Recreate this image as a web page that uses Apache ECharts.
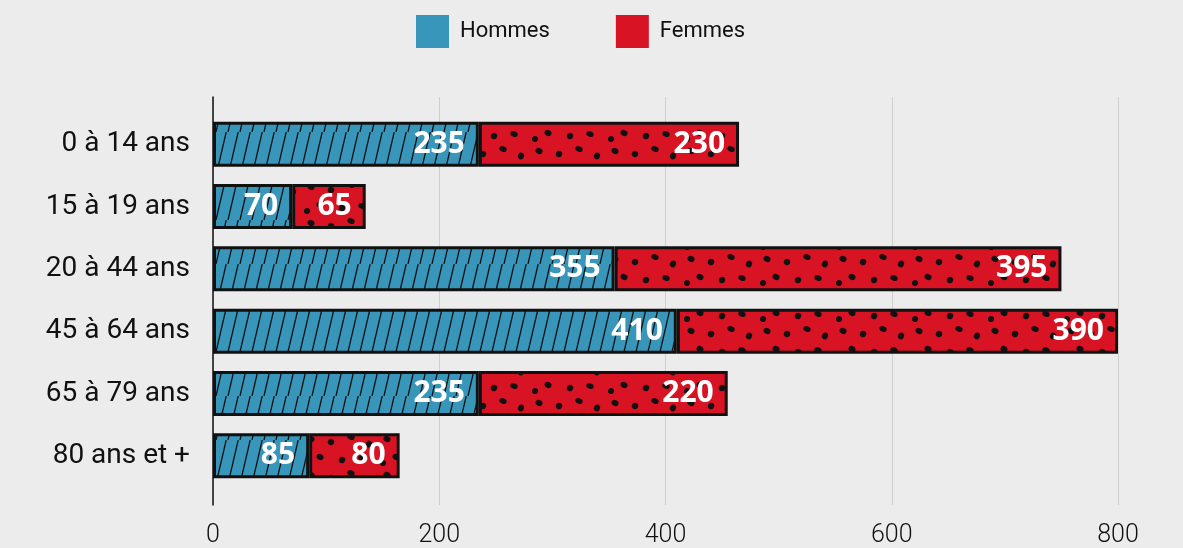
<!DOCTYPE html>
<html><head><meta charset="utf-8">
<script src="https://cdn.jsdelivr.net/npm/echarts@6/dist/echarts.min.js"></script>
<style>html,body{margin:0;padding:0;background:#ececec}#c{width:1183px;height:548px}</style>
</head><body><div id="c"></div>
<script>
const categories = ['0 à 14 ans','15 à 19 ans','20 à 44 ans','45 à 64 ans','65 à 79 ans','80 ans et +'];
const hommes = [235, 70, 355, 410, 235, 85];
const femmes = [230, 65, 395, 390, 220, 80];
const xTicks = [0, 200, 400, 600, 800];

const BLUE = '#3996bb', RED = '#d71324';

function hatch() {
  const w = 12, h = 44, c = document.createElement('canvas');
  c.width = w; c.height = h;
  const g = c.getContext('2d');
  g.fillStyle = BLUE; g.fillRect(0, 0, w, h);
  g.strokeStyle = '#111'; g.lineWidth = 1.3;
  for (const o of [-w, 0, w]) {
    g.beginPath(); g.moveTo(o, h); g.lineTo(o + w * 0.85, 0); g.stroke();
  }
  return c;
}
function dots() {
  const w = 76, h = 36, c = document.createElement('canvas');
  c.width = w; c.height = h;
  const g = c.getContext('2d');
  g.fillStyle = RED; g.fillRect(0, 0, w, h);
  g.fillStyle = '#111';
  const pts = [[7,7,3.6,2.9],[27,10,3.2,3.2],[47,5,3.8,2.7],[65,12,3,3.4],[16,25,3.6,2.9],[38,28,3.2,3.2],[58,26,3.8,2.8],[3,31,3,3]];
  for (const [x,y,rx,ry] of pts) { g.beginPath(); g.ellipse(x,y,rx,ry,0.4,0,Math.PI*2); g.fill(); }
  return c;
}

const labelStyle = {show:true, position:'insideRight', distance:14, color:'#fff', fontFamily:'Open Sans', fontWeight:700, fontSize:30};

const chart = echarts.init(document.getElementById('c'));
chart.setOption({
  backgroundColor:'#ececec',
  animation:false,
  legend:{
    top:10, left:411, itemWidth:33, itemHeight:33, itemGap:66, icon:'rect',
    textStyle:{fontFamily:'Roboto', fontSize:22, color:'#111', padding:[0,0,0,6]},
    data:[{name:'Hommes', itemStyle:{color:BLUE, borderWidth:0}},{name:'Femmes', itemStyle:{color:RED, borderWidth:0}}]
  },
  grid:[
    {left:213, right:65, top:97, bottom:43},
    {left:213, right:65, top:113, bottom:61}
  ],
  xAxis:[
    {gridIndex:0, type:'value', min:0, max:800, interval:200, axisLine:{show:false}, axisTick:{show:false},
     splitLine:{lineStyle:{color:'#cfcfcf', width:1}},
     axisLabel:{margin:18, fontFamily:'Roboto', fontWeight:300, fontSize:25, color:'#111',
       formatter:v=>xTicks.includes(v)?String(v):''}},
    {gridIndex:1, type:'value', min:0, max:800, interval:200, show:false}
  ],
  yAxis:[
    {gridIndex:0, type:'category', data:categories, inverse:true, axisLine:{lineStyle:{color:'#111', width:1.5}},
     axisTick:{show:false}, axisLabel:{show:false}, splitLine:{show:false}},
    {gridIndex:1, type:'category', data:categories, inverse:true, axisLine:{show:false}, axisTick:{show:false},
     axisLabel:{margin:23, fontFamily:'Roboto', fontSize:28, color:'#111'}}
  ],
  series:[
    {name:'Hommes', type:'bar', stack:'t', xAxisIndex:1, yAxisIndex:1, data:hommes, barWidth:45,
     itemStyle:{color:{image:hatch(), repeat:'repeat'}, borderColor:'#111', borderWidth:3},
     label:labelStyle},
    {name:'Femmes', type:'bar', stack:'t', xAxisIndex:1, yAxisIndex:1, data:femmes, barWidth:45,
     itemStyle:{color:{image:dots(), repeat:'repeat'}, borderColor:'#111', borderWidth:3},
     label:labelStyle}
  ]
});
</script></body></html>
